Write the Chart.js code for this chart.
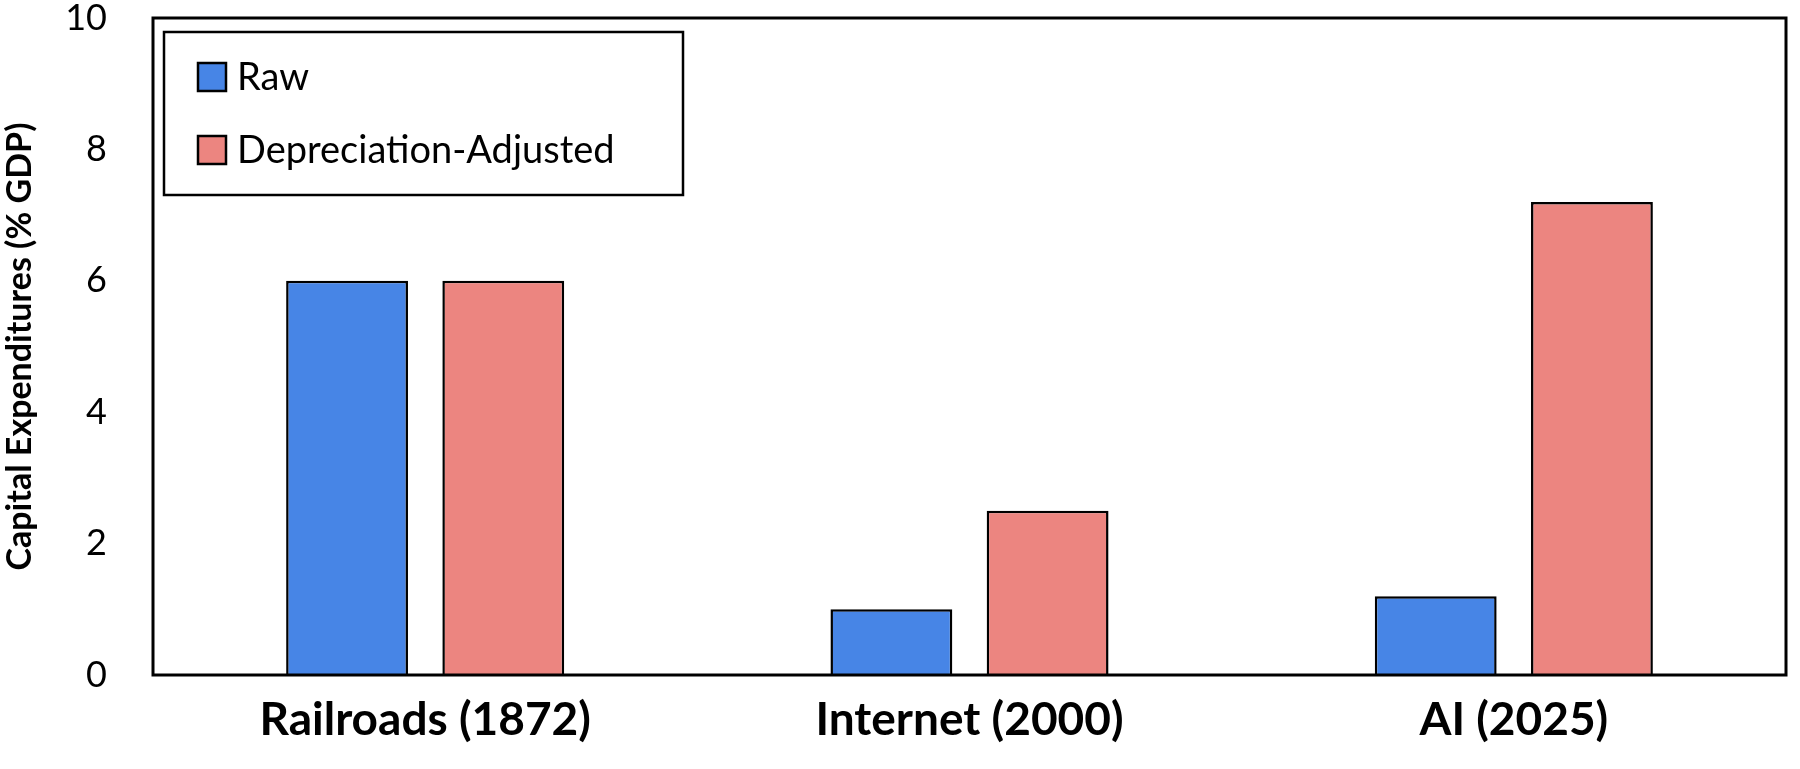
<!DOCTYPE html>
<html><head><meta charset="utf-8">
<script src="https://cdn.jsdelivr.net/npm/chart.js@4.4.0/dist/chart.umd.min.js"></script>
<style>html,body{margin:0;padding:0;background:#fff}#w{width:1800px;height:769px}</style>
</head><body><div id="w"><canvas id="c"></canvas></div>
<script>
const categories = ["Railroads (1872)", "Internet (2000)", "AI (2025)"];
const rawValues = [6.0, 1.0, 1.2];
const adjustedValues = [6.0, 2.5, 7.2];
const yTicks = [0, 2, 4, 6, 8, 10];
const FONT = "Lato, 'Open Sans', sans-serif";

const framePlugin = {
  id: 'frame',
  afterDraw(chart) {
    const {ctx, chartArea: a} = chart;
    ctx.save();
    ctx.strokeStyle = '#000'; ctx.lineWidth = 3;
    ctx.strokeRect(a.left, a.top, a.right - a.left, a.bottom - a.top);
    const lx = 164, ly = 32, lw = 519, lh = 163;
    ctx.lineWidth = 2.5;
    ctx.fillStyle = '#fff';
    ctx.fillRect(lx, ly, lw, lh);
    ctx.strokeRect(lx, ly, lw, lh);
    ctx.font = "38px " + FONT;
    ctx.textBaseline = 'middle';
    chart.data.datasets.forEach((ds, i) => {
      const cy = ly + 45 + i * 73;
      ctx.fillStyle = ds.backgroundColor;
      ctx.fillRect(198, cy - 14, 28, 28);
      ctx.lineWidth = 2.5; ctx.strokeStyle = '#000';
      ctx.strokeRect(198, cy - 14, 28, 28);
      ctx.fillStyle = '#000';
      ctx.fillText(ds.label, 237, cy + 1);
    });
    ctx.restore();
  }
};

new Chart(document.getElementById('c'), {
  type: 'bar',
  data: {
    labels: categories,
    datasets: [
      {label: 'Raw', data: rawValues, backgroundColor: '#4785E6', borderColor: '#000', borderWidth: 2.5},
      {label: 'Depreciation-Adjusted', data: adjustedValues, backgroundColor: '#EC8580', borderColor: '#000', borderWidth: 2.5}
    ]
  },
  options: {
    responsive: true, maintainAspectRatio: false, animation: false,
    layout: {padding: {top: 18, right: 14, left: 0, bottom: 0}},
    plugins: {legend: {display: false}, tooltip: {enabled: false}},
    datasets: {bar: {categoryPercentage: 0.574, barPercentage: 0.78}},
    scales: {
      x: {
        grid: {display: false, drawTicks: false}, border: {display: false},
        ticks: {color: '#000', font: {family: FONT, size: 46, weight: 'bold'}, padding: 18},
        afterFit(s) { s.height = 94; s.paddingLeft = 0; s.paddingRight = 0; }
      },
      y: {
        min: 0, max: 10,
        afterBuildTicks(s) { s.ticks = yTicks.map(v => ({value: v})); },
        grid: {display: false, drawTicks: false}, border: {display: false},
        ticks: {color: '#000', font: {family: FONT, size: 36}, padding: 46},
        title: {display: true, text: 'Capital Expenditures (% GDP)', color: '#000', font: {family: FONT, size: 34, weight: 'bold'}, padding: 0},
        afterFit(s) { s.width = 153; s.paddingTop = 0; s.paddingBottom = 0; }
      }
    }
  },
  plugins: [framePlugin]
});
</script></body></html>
